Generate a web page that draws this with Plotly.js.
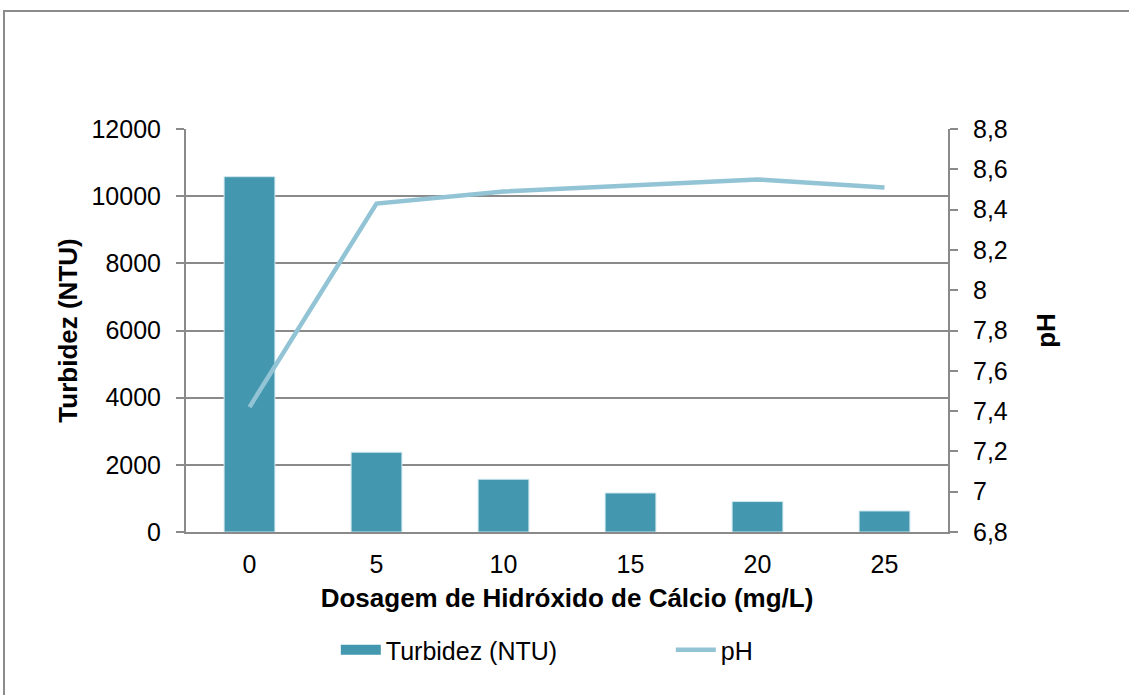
<!DOCTYPE html>
<html>
<head>
<meta charset="utf-8">
<script src="https://cdn.plot.ly/plotly-3.0.1.min.js"></script>
<style>
  html, body { margin:0; padding:0; background:#fff; overflow:hidden; }
  #wrap { position:relative; width:1129px; height:695px; }
  #chart { width:1129px; height:695px; }
  #frame { position:absolute; left:3px; top:10px; width:1300px; height:900px;
           border:2px solid #8c8c8c; box-sizing:border-box; pointer-events:none; }
</style>
</head>
<body>
<div id="wrap">
  <div id="chart"></div>
  <div id="frame"></div>
</div>
<script>
// Data
const dosagens = ['0', '5', '10', '15', '20', '25'];
const turbidez = [10580, 2375, 1570, 1162, 906, 626];
const ph = [7.42, 8.43, 8.49, 8.52, 8.55, 8.51];

const leftTicks = [0, 2000, 4000, 6000, 8000, 10000, 12000];
const rightTicks = [6.8, 7.0, 7.2, 7.4, 7.6, 7.8, 8.0, 8.2, 8.4, 8.6, 8.8];

const barColor = '#4397ae';
const lineColor = '#92c4d5';
const gridColor = '#8a8a8a';
const FONT = 'Liberation Sans, Arial, sans-serif';

const traces = [
  {
    type: 'bar', x: dosagens, y: turbidez, name: 'Turbidez (NTU)',
    marker: { color: barColor, line: { color: '#cfe7ef', width: 1 } },
    showlegend: false, yaxis: 'y', hoverinfo: 'x+y'
  },
  {
    type: 'scatter', mode: 'lines', x: [null], y: [null], name: 'Turbidez (NTU)',
    line: { color: barColor, width: 14 }, yaxis: 'y', showlegend: true, hoverinfo: 'skip'
  },
  {
    type: 'scatter', mode: 'lines', x: dosagens, y: ph, name: 'pH',
    line: { color: lineColor, width: 4.5 }, yaxis: 'y2'
  }
];

const layout = {
  width: 1129, height: 695,
  paper_bgcolor: '#ffffff', plot_bgcolor: '#ffffff',
  margin: { l: 186, r: 181, t: 129, b: 163, pad: 0 },
  font: { family: FONT, size: 25, color: '#000' },
  separators: ',.',
  bargap: 0.6,
  xaxis: {
    type: 'category', categoryorder: 'array', categoryarray: dosagens,
    showline: true, linecolor: gridColor, linewidth: 2,
    ticks: '', showgrid: false, zeroline: false, ticklabelstandoff: 9,
    tickfont: { family: FONT, size: 25 },
    title: { text: 'Dosagem de Hidróxido de Cálcio (mg/L)', font: { family: FONT, size: 26, weight: 'bold' }, standoff: 12 }
  },
  yaxis: {
    range: [0, 12000], tickvals: leftTicks, tickformat: 'd',
    showline: true, linecolor: gridColor, linewidth: 2,
    ticks: 'outside', ticklen: 8, tickcolor: gridColor, tickwidth: 2, ticklabelstandoff: 10,
    showgrid: true, gridcolor: gridColor, gridwidth: 2, zeroline: false,
    tickfont: { family: FONT, size: 25 },
    title: { text: 'Turbidez (NTU)', font: { family: FONT, size: 26, weight: 'bold' }, standoff: 6 }
  },
  yaxis2: {
    overlaying: 'y', side: 'right', range: [6.8, 8.8], tickvals: rightTicks,
    showline: true, linecolor: gridColor, linewidth: 2,
    ticks: 'outside', ticklen: 8, tickcolor: gridColor, tickwidth: 2, ticklabelstandoff: 10,
    showgrid: false, zeroline: false,
    tickfont: { family: FONT, size: 25 },
    title: { text: 'pH', font: { family: FONT, size: 26, weight: 'bold' }, standoff: 30 }
  },
  showlegend: true,
  legend: {
    orientation: 'h', x: 0.1966, xanchor: 'left', y: -0.293, yanchor: 'middle',
    font: { family: FONT, size: 25 }, bgcolor: 'rgba(0,0,0,0)',
    entrywidth: 280, itemwidth: 40
  }
};

Plotly.newPlot('chart', traces, layout, { displayModeBar: false, staticPlot: true });
</script>
</body>
</html>
